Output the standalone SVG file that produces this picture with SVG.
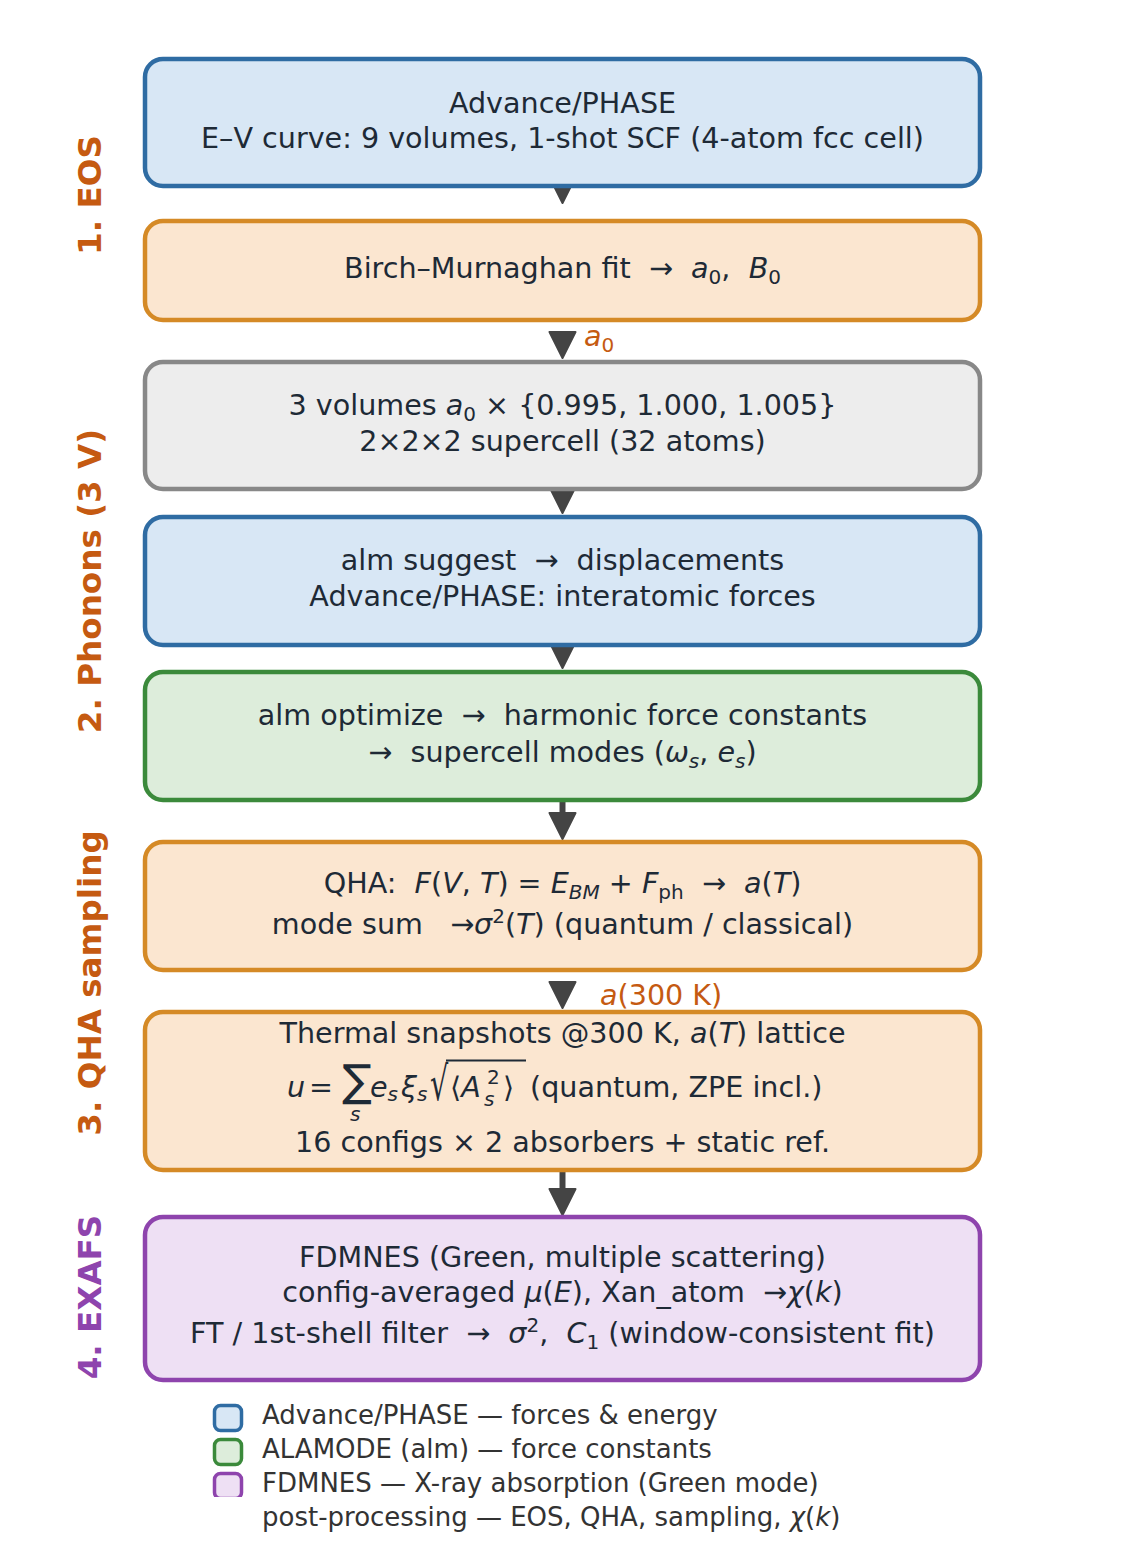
<svg xmlns="http://www.w3.org/2000/svg" width="1124" height="1553" viewBox="0 0 1124 1553">
<style>
.t{font-family:"DejaVu Sans","Liberation Sans",sans-serif;font-size:28.6px;fill:#1e2a36;text-anchor:middle}
.st{text-anchor:start}
.i{font-style:italic}
.s{font-size:20px}
.lab{font-family:"DejaVu Sans","Liberation Sans",sans-serif;font-weight:bold;font-size:32.6px;text-anchor:middle}
.or{fill:#c55a11}
.pu{fill:#8e44ad}
.lg{font-family:"DejaVu Sans","Liberation Sans",sans-serif;font-size:26px;fill:#333;text-anchor:start}
.box{stroke-width:4.5}
.blue{fill:#d8e7f5;stroke:#2f6ca3}
.orange{fill:#fbe6d0;stroke:#d58a26}
.gray{fill:#ededed;stroke:#888888}
.green{fill:#ddeddb;stroke:#3b8a3b}
.purple{fill:#eee0f4;stroke:#8e44ad}
.sh{stroke:#444;stroke-width:6;fill:none}
.ah{fill:#444;stroke:#444;stroke-width:2;stroke-linejoin:round}
.sw{stroke-width:3.5}
</style>
<defs>
<clipPath id="clip3"><rect x="200" y="1465" width="60" height="32"/></clipPath>
</defs>
<rect width="1124" height="1553" fill="#ffffff"/>

<g id="connectors">
<path class="ah" d="M549.5,177 L575.5,177 L562.5,203 Z"/>
<path class="ah" d="M549.5,332 L575.5,332 L562.5,358 Z"/>
<path class="ah" d="M549.5,487 L575.5,487 L562.5,513 Z"/>
<path class="ah" d="M549.5,642 L575.5,642 L562.5,668 Z"/>
<line class="sh" x1="562.5" y1="795" x2="562.5" y2="815"/>
<path class="ah" d="M549.5,813 L575.5,813 L562.5,839 Z"/>
<path class="ah" d="M549.5,982 L575.5,982 L562.5,1008 Z"/>
<line class="sh" x1="562.5" y1="1165" x2="562.5" y2="1191"/>
<path class="ah" d="M549.5,1189 L575.5,1189 L562.5,1215 Z"/>
<text class="t st or" x="584" y="346" xml:space="preserve"><tspan class="i">a</tspan><tspan class="s" dy="6">0</tspan></text>
<text class="t st or" x="600" y="1005" xml:space="preserve"><tspan class="i">a</tspan>(300 K)</text>
</g>

<g id="node-eos-ev">
<rect class="box blue" x="145" y="59" width="835" height="127" rx="18"/>
<text class="t" x="562.5" y="113">Advance/PHASE</text>
<text class="t" x="562.5" y="148">E–V curve: 9 volumes, 1-shot SCF (4-atom fcc cell)</text>
</g>

<g id="node-bm-fit">
<rect class="box orange" x="145" y="221" width="835" height="99" rx="18"/>
<text class="t" x="562.5" y="278" xml:space="preserve">Birch–Murnaghan fit  →  <tspan class="i">a</tspan><tspan class="s" dy="6">0</tspan><tspan dy="-6">,  </tspan><tspan class="i">B</tspan><tspan class="s" dy="6">0</tspan></text>
</g>

<g id="node-volumes">
<rect class="box gray" x="145" y="362" width="835" height="127" rx="18"/>
<text class="t" x="562.5" y="415" xml:space="preserve">3 volumes <tspan class="i">a</tspan><tspan class="s" dy="6">0</tspan><tspan dy="-6"> × {0.995, 1.000, 1.005}</tspan></text>
<text class="t" x="562.5" y="451">2×2×2 supercell (32 atoms)</text>
</g>

<g id="node-alm-suggest">
<rect class="box blue" x="145" y="517" width="835" height="128" rx="18"/>
<text class="t" x="562.5" y="570" xml:space="preserve">alm suggest  →  displacements</text>
<text class="t" x="562.5" y="606">Advance/PHASE: interatomic forces</text>
</g>

<g id="node-alm-optimize">
<rect class="box green" x="145" y="672" width="835" height="128" rx="18"/>
<text class="t" x="562.5" y="725" xml:space="preserve">alm optimize  →  harmonic force constants</text>
<text class="t" x="562.5" y="762" xml:space="preserve">→  supercell modes (<tspan class="i">ω</tspan><tspan class="s i" dy="6">s</tspan><tspan dy="-6">, </tspan><tspan class="i">e</tspan><tspan class="s i" dy="6">s</tspan><tspan dy="-6">)</tspan></text>
</g>

<g id="node-qha">
<rect class="box orange" x="145" y="842" width="835" height="128" rx="18"/>
<text class="t" x="562.5" y="893" xml:space="preserve">QHA:  <tspan class="i">F</tspan>(<tspan class="i">V</tspan>, <tspan class="i">T</tspan>) = <tspan class="i">E</tspan><tspan class="s i" dy="6">BM</tspan><tspan dy="-6"> + </tspan><tspan class="i">F</tspan><tspan class="s" dy="6">ph</tspan><tspan dy="-6">  →  </tspan><tspan class="i">a</tspan>(<tspan class="i">T</tspan>)</text>
<text class="t" x="562.5" y="934" xml:space="preserve">mode sum   →<tspan class="i">σ</tspan><tspan class="s" dy="-11">2</tspan><tspan dy="11">(</tspan><tspan class="i">T</tspan>) (quantum / classical)</text>
</g>

<g id="node-snapshots">
<rect class="box orange" x="145" y="1012" width="835" height="158" rx="18"/>
<text class="t" x="562.5" y="1043" xml:space="preserve">Thermal snapshots @300 K, <tspan class="i">a</tspan>(<tspan class="i">T</tspan>) lattice</text>
<text class="t st i" x="287" y="1097">u</text>
<text class="t st" x="309" y="1097">=</text>
<text class="t st" x="342" y="1096" style="font-size:44px">∑</text>
<text class="t st i s" x="350" y="1121">s</text>
<text class="t st" x="370" y="1097" xml:space="preserve"><tspan class="i">e</tspan><tspan class="s i" dy="4">s</tspan></text>
<text class="t st" x="401" y="1097" xml:space="preserve"><tspan class="i">ξ</tspan><tspan class="s i" dy="4">s</tspan></text>
<text class="t st" x="0" y="0" transform="translate(430,1100) scale(1,1.65)">√</text>
<line x1="446" y1="1060.5" x2="526" y2="1060.5" stroke="#1e2a36" stroke-width="2"/>
<text class="t st" x="450" y="1097">⟨<tspan class="i">A</tspan></text>
<text class="t st i s" x="484" y="1106">s</text>
<text class="t st s" x="487" y="1084">2</text>
<text class="t st" x="503" y="1097">⟩</text>
<text class="t st" x="530" y="1097">(quantum, ZPE incl.)</text>
<text class="t" x="562.5" y="1152">16 configs × 2 absorbers + static ref.</text>
</g>

<g id="node-fdmnes">
<rect class="box purple" x="145" y="1217" width="835" height="163" rx="18"/>
<text class="t" x="562.5" y="1267">FDMNES (Green, multiple scattering)</text>
<text class="t" x="562.5" y="1302" xml:space="preserve">config-averaged <tspan class="i">μ</tspan>(<tspan class="i">E</tspan>), Xan_atom  →<tspan class="i">χ</tspan>(<tspan class="i">k</tspan>)</text>
<text class="t" x="562.5" y="1343" xml:space="preserve">FT / 1st-shell filter  →  <tspan class="i">σ</tspan><tspan class="s" dy="-11">2</tspan><tspan dy="11">,  </tspan><tspan class="i">C</tspan><tspan class="s" dy="6">1</tspan><tspan dy="-6"> (window-consistent fit)</tspan></text>
</g>

<g id="stage-labels">
<text class="lab or" x="101" y="195" transform="rotate(-90 101 195)">1. EOS</text>
<text class="lab or" x="101" y="581" transform="rotate(-90 101 581)">2. Phonons (3 V)</text>
<text class="lab or" x="101" y="983" transform="rotate(-90 101 983)">3. QHA sampling</text>
<text class="lab pu" x="101" y="1297" transform="rotate(-90 101 1297)">4. EXAFS</text>
</g>

<g id="legend">
<rect class="sw blue" x="214.5" y="1405.5" width="27" height="25" rx="6"/>
<rect class="sw green" x="214.5" y="1439.5" width="27" height="25" rx="6"/>
<rect class="sw purple" x="214.5" y="1473.5" width="27" height="25" rx="6" clip-path="url(#clip3)"/>
<text class="lg" x="262" y="1424">Advance/PHASE — forces &amp; energy</text>
<text class="lg" x="262" y="1458">ALAMODE (alm) — force constants</text>
<text class="lg" x="262" y="1492">FDMNES — X-ray absorption (Green mode)</text>
<text class="lg" x="262" y="1526" xml:space="preserve">post-processing — EOS, QHA, sampling, <tspan class="i">χ</tspan>(<tspan class="i">k</tspan>)</text>
</g>
</svg>
